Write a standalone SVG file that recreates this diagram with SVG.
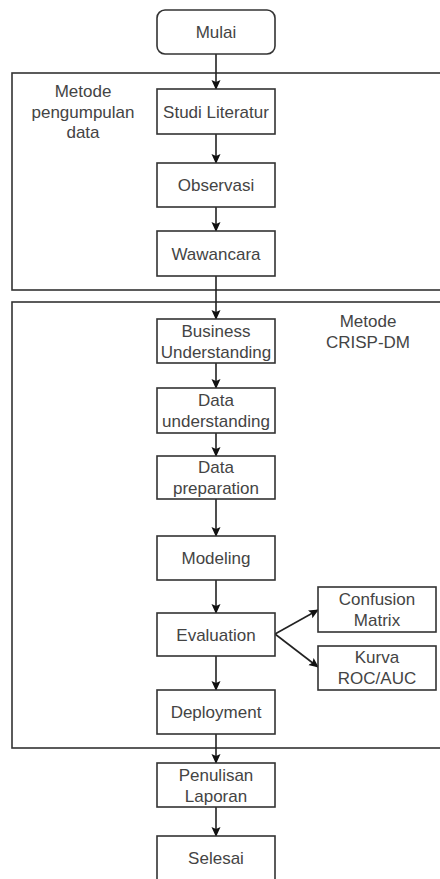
<svg xmlns="http://www.w3.org/2000/svg" width="440" height="879" viewBox="0 0 440 879">
<style>
.box{fill:#fff;stroke:#333;stroke-width:1.6}
.cont{fill:none;stroke:#333;stroke-width:1.6}
.t{font-family:"Liberation Sans",Arial,sans-serif;font-size:17px;fill:#444;text-anchor:middle}
.edge{fill:none;stroke:#222;stroke-width:1.6;marker-end:url(#arr)}
</style>
<defs>
<marker id="arr" viewBox="0 0 10 10" refX="9" refY="5" markerWidth="10" markerHeight="10" markerUnits="userSpaceOnUse" orient="auto">
<path d="M0,0.5 L10,5 L0,9.5 L2,5 z" fill="#111"/>
</marker>
</defs>
<rect width="440" height="879" fill="#fff"/>
<g id="group-pengumpulan">
<rect class="cont" x="12" y="73" width="440" height="217"/>
<text class="t"><tspan x="83" y="97">Metode</tspan><tspan x="83" y="117.5">pengumpulan</tspan><tspan x="83" y="138">data</tspan></text>
</g>
<g id="group-crisp">
<rect class="cont" x="12" y="302" width="440" height="446"/>
<text class="t"><tspan x="368" y="327">Metode</tspan><tspan x="368" y="348">CRISP-DM</tspan></text>
</g>
<g id="connectors">
<line class="edge" x1="216" y1="54" x2="216" y2="89"/>
<line class="edge" x1="216" y1="134" x2="216" y2="163"/>
<line class="edge" x1="216" y1="207" x2="216" y2="231"/>
<line class="edge" x1="216" y1="276" x2="216" y2="319"/>
<line class="edge" x1="216" y1="363" x2="216" y2="388"/>
<line class="edge" x1="216" y1="433" x2="216" y2="456"/>
<line class="edge" x1="216" y1="499" x2="216" y2="536"/>
<line class="edge" x1="216" y1="580" x2="216" y2="613"/>
<line class="edge" x1="216" y1="656" x2="216" y2="690"/>
<line class="edge" x1="216" y1="734" x2="216" y2="763"/>
<line class="edge" x1="216" y1="807" x2="216" y2="836"/>
<line class="edge" x1="275" y1="634" x2="318" y2="610"/>
<line class="edge" x1="275" y1="634" x2="318" y2="667"/>
</g>
<g id="mulai"><rect class="box" x="157" y="10" width="118" height="44" rx="8"/><text class="t" x="216" y="38">Mulai</text></g>
<g id="studi"><rect class="box" x="157" y="89" width="118" height="45"/><text class="t" x="216" y="117.5">Studi Literatur</text></g>
<g id="observasi"><rect class="box" x="157" y="163" width="118" height="44"/><text class="t" x="216" y="191">Observasi</text></g>
<g id="wawancara"><rect class="box" x="157" y="231" width="118" height="45"/><text class="t" x="216" y="259.5">Wawancara</text></g>
<g id="business"><rect class="box" x="157" y="319" width="118" height="44"/><text class="t"><tspan x="216" y="336.5">Business</tspan><tspan x="216" y="357.5">Understanding</tspan></text></g>
<g id="dataund"><rect class="box" x="157" y="388" width="118" height="45"/><text class="t"><tspan x="216" y="406">Data</tspan><tspan x="216" y="427">understanding</tspan></text></g>
<g id="dataprep"><rect class="box" x="157" y="456" width="118" height="43"/><text class="t"><tspan x="216" y="473">Data</tspan><tspan x="216" y="494">preparation</tspan></text></g>
<g id="modeling"><rect class="box" x="157" y="536" width="118" height="44"/><text class="t" x="216" y="564">Modeling</text></g>
<g id="evaluation"><rect class="box" x="157" y="613" width="118" height="43"/><text class="t" x="216" y="640.5">Evaluation</text></g>
<g id="confusion"><rect class="box" x="318" y="587" width="118" height="45"/><text class="t"><tspan x="377" y="605">Confusion</tspan><tspan x="377" y="626">Matrix</tspan></text></g>
<g id="kurva"><rect class="box" x="318" y="646" width="118" height="44"/><text class="t"><tspan x="377" y="663">Kurva</tspan><tspan x="377" y="684">ROC/AUC</tspan></text></g>
<g id="deployment"><rect class="box" x="157" y="690" width="118" height="44"/><text class="t" x="216" y="718">Deployment</text></g>
<g id="penulisan"><rect class="box" x="157" y="763" width="118" height="44"/><text class="t"><tspan x="216" y="780.5">Penulisan</tspan><tspan x="216" y="801.5">Laporan</tspan></text></g>
<g id="selesai"><rect class="box" x="157" y="836" width="118" height="44"/><text class="t" x="216" y="864">Selesai</text></g>
</svg>
